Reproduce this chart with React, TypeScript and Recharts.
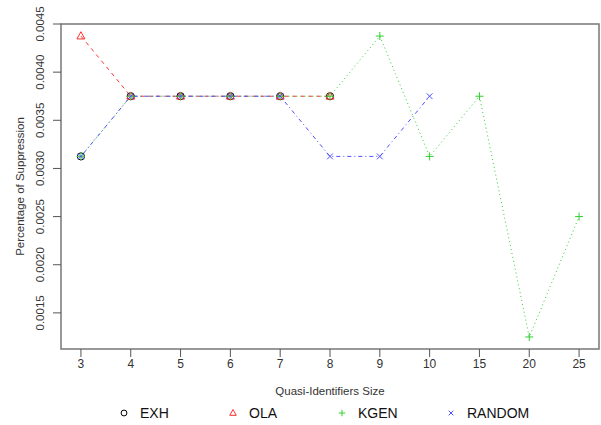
import React from "react"
import { LineChart, Line, XAxis, YAxis, ReferenceArea } from "recharts"

const xLabels = ["3", "4", "5", "6", "7", "8", "9", "10", "15", "20", "25"]
const exh = [0.003125, 0.00375, 0.00375, 0.00375, 0.00375, 0.00375, null, null, null, null, null]
const ola = [0.004375, 0.00375, 0.00375, 0.00375, 0.00375, 0.00375, null, null, null, null, null]
const kgen = [0.003125, 0.00375, 0.00375, 0.00375, 0.00375, 0.00375, 0.004375, 0.003125, 0.00375, 0.00125, 0.0025]
const random = [0.003125, 0.00375, 0.00375, 0.00375, 0.00375, 0.003125, 0.003125, 0.00375, null, null, null]
const yTicks = [0.0015, 0.002, 0.0025, 0.003, 0.0035, 0.004, 0.0045]
const yDomain = [0.001125, 0.0045]

const series = [
  { key: "EXH", color: "#000000", shape: "circle", dash: undefined, line: false },
  { key: "OLA", color: "#ff3030", shape: "triangle", dash: "4 4", line: true },
  { key: "KGEN", color: "#2ed02e", shape: "plus", dash: "1 3", line: true },
  { key: "RANDOM", color: "#5050ff", shape: "cross", dash: "1 3 4 3", line: true },
]

const data = xLabels.map((label, i) => ({
  idx: i,
  label,
  EXH: exh[i],
  OLA: ola[i],
  KGEN: kgen[i],
  RANDOM: random[i],
}))

const FONT = '"Liberation Sans", Arial, sans-serif'

function Marker({ shape, color, cx, cy, s }: any) {
  if (shape === "circle") return <circle cx={cx} cy={cy} r={s * 0.45} fill="none" stroke={color} strokeWidth={1} />
  if (shape === "triangle") {
    const h = s * 0.9
    return (
      <polygon
        points={`${cx},${cy - h * 0.6} ${cx - s / 2},${cy + h * 0.4} ${cx + s / 2},${cy + h * 0.4}`}
        fill="none"
        stroke={color}
        strokeWidth={1}
      />
    )
  }
  if (shape === "plus")
    return (
      <path d={`M${cx - s / 2},${cy}H${cx + s / 2}M${cx},${cy - s / 2}V${cy + s / 2}`} stroke={color} strokeWidth={1} />
    )
  const d = s * 0.36
  return (
    <path d={`M${cx - d},${cy - d}L${cx + d},${cy + d}M${cx - d},${cy + d}L${cx + d},${cy - d}`} stroke={color} strokeWidth={1} />
  )
}

function YTick({ x, y, payload }: any) {
  const cx = x - 11
  return (
    <text
      x={cx}
      y={y}
      transform={`rotate(-90, ${cx}, ${y})`}
      textAnchor="middle"
      dominantBaseline="central"
      fontSize={11.5}
      fill="#333"
      fontFamily={FONT}
    >
      {payload.value.toFixed(4)}
    </text>
  )
}

export default function App() {
  return (
    <div style={{ position: "absolute", left: 0, top: 0, width: 601, height: 425, background: "#fff", fontFamily: FONT }}>
      <LineChart width={601} height={425} data={data} margin={{ top: 24, right: 2, left: 0, bottom: 29 }}>
        <XAxis
          type="number"
          dataKey="idx"
          domain={[-0.4, 10.4]}
          ticks={xLabels.map((_, i) => i)}
          tickFormatter={(i: number) => xLabels[i]}
          axisLine={false}
          tickSize={8}
          tickLine={{ stroke: "#555" }}
          tick={{ fontSize: 12, fill: "#333", fontFamily: FONT }}
          height={47}
          label={{
            content: ({ viewBox }: any) => (
              <text
                x={viewBox.x + viewBox.width / 2}
                y={viewBox.y + 46}
                textAnchor="middle"
                fontSize={11.5}
                fill="#333"
                fontFamily={FONT}
              >
                Quasi-Identifiers Size
              </text>
            ),
          }}
        />
        <YAxis
          type="number"
          domain={yDomain}
          ticks={yTicks}
          allowDataOverflow
          width={61}
          axisLine={false}
          tickSize={8}
          tickLine={{ stroke: "#555" }}
          tick={<YTick />}
          label={{
            content: ({ viewBox }: any) => {
              const cy = viewBox.y + viewBox.height / 2
              return (
                <text
                  x={20}
                  y={cy}
                  transform={`rotate(-90, 20, ${cy})`}
                  textAnchor="middle"
                  dominantBaseline="central"
                  fontSize={11.5}
                  fill="#333"
                  fontFamily={FONT}
                >
                  Percentage of Suppression
                </text>
              )
            },
          }}
        />
        <ReferenceArea
          x1={-0.4}
          x2={10.4}
          y1={yDomain[0]}
          y2={yDomain[1]}
          fill="none"
          fillOpacity={0}
          stroke="#777"
          strokeWidth={1.5}
          ifOverflow="visible"
        />
        {series.map((s) => (
          <Line
            key={s.key}
            dataKey={s.key}
            stroke={s.line ? s.color : "none"}
            strokeWidth={1}
            strokeDasharray={s.dash}
            isAnimationActive={false}
            activeDot={false}
            dot={(p: any) =>
              p.value == null || p.cy == null ? (
                <g key={p.index} />
              ) : (
                <Marker key={p.index} shape={s.shape} color={s.color} cx={p.cx} cy={p.cy} s={8} />
              )
            }
          />
        ))}
      </LineChart>
      {series.map((s, i) => (
        <div key={s.key} style={{ position: "absolute", left: 117 + 109 * i, top: 404, height: 18, display: "flex", alignItems: "center" }}>
          <svg width={14} height={14}>
            <Marker shape={s.shape} color={s.color} cx={7} cy={7} s={6.5} />
          </svg>
          <span style={{ marginLeft: 9, fontSize: 14, color: "#111" }}>{s.key}</span>
        </div>
      ))}
    </div>
  )
}
